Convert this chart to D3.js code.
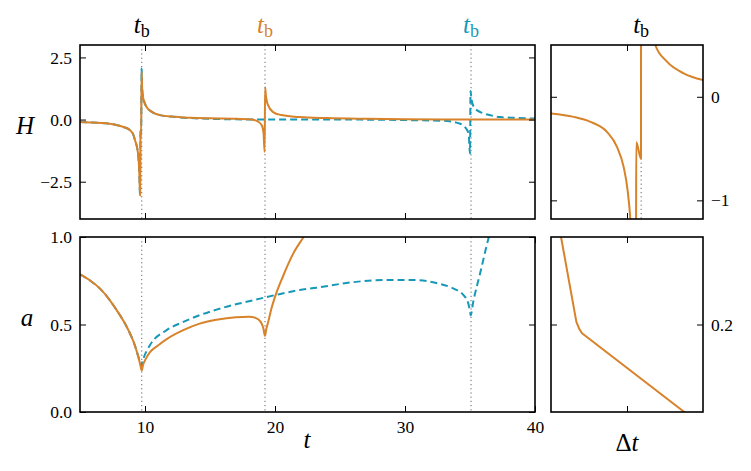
<!DOCTYPE html>
<html>
<head>
<meta charset="utf-8">
<script src="https://cdn.jsdelivr.net/npm/d3@7"></script>
<style>
  body { margin: 0; background: #fff; }
  svg { display: block; }
</style>
</head>
<body>
<svg id="chart" width="751" height="471"></svg>
<script>
// bounce times (t_b) of the three runs
var tbTimes = [9.75, 19.23, 35.08];
var tbZoom = 0.593;

// H(t), orange run (solid)
var hOrangeT = [5, 6, 7, 7.8, 8.4, 8.85, 9.1, 9.23, 9.38, 9.49, 9.56, 9.62, 9.65, 9.67, 9.70, 9.74, 9.78, 9.85, 9.95, 10.13, 10.5, 11.15, 12, 13.5, 15, 17, 18.2, 18.7, 19.0, 19.12, 19.2, 19.24, 19.3, 19.45, 19.85, 20.5, 21.9, 24, 27, 30, 35, 40];
var hOrange  = [-0.10, -0.12, -0.15, -0.22, -0.31, -0.43, -0.6, -0.83, -1.1, -1.5, -2.1, -3.05, -0.7, -0.43, -0.62, 1.92, 1.25, 0.9, 0.7, 0.5, 0.32, 0.18, 0.12, 0.07, 0.05, 0.035, 0.0, -0.08, -0.25, -0.55, -1.3, 1.3, 0.95, 0.6, 0.3, 0.18, 0.1, 0.06, 0.03, 0.01, 0.0, 0.0];

// H(t), teal run (dashed)
var hTealT = [5, 6, 7, 7.8, 8.4, 8.85, 9.1, 9.23, 9.38, 9.49, 9.56, 9.62, 9.65, 9.67, 9.70, 9.74, 9.78, 9.85, 9.95, 10.13, 10.5, 11.15, 12, 13.5, 15, 17, 20, 25, 30, 33, 34.2, 34.7, 34.9, 35.0, 35.04, 35.12, 35.3, 35.55, 35.8, 36.6, 37.3, 38.5, 40];
var hTeal  = [-0.10, -0.12, -0.15, -0.22, -0.31, -0.43, -0.6, -0.83, -1.1, -1.5, -2.1, -3.05, -0.7, -0.43, -0.62, 2.05, 1.25, 0.9, 0.7, 0.5, 0.32, 0.18, 0.12, 0.06, 0.03, 0.01, 0.0, 0.0, -0.02, -0.05, -0.16, -0.36, -0.6, -1.36, 1.15, 0.8, 0.5, 0.37, 0.3, 0.17, 0.1, 0.07, 0.04];

// a(t), orange run
var aOrangeT = [5, 5.8, 6.54, 7.2, 7.82, 8.5, 8.9, 9.2, 9.45, 9.62, 9.75, 9.85, 10.0, 10.4, 11, 11.7, 12.9, 14.2, 15.5, 17, 18, 18.5, 18.9, 19.1, 19.23, 19.32, 19.48, 19.72, 20, 20.64, 21.4, 22.2, 22.5];
var aOrange  = [0.786, 0.75, 0.705, 0.648, 0.582, 0.50, 0.44, 0.385, 0.325, 0.275, 0.237, 0.27, 0.295, 0.343, 0.38, 0.418, 0.466, 0.505, 0.527, 0.542, 0.545, 0.538, 0.515, 0.48, 0.435, 0.47, 0.515, 0.59, 0.658, 0.78, 0.905, 1.0, 1.035];

// a(t), teal run
var aTealT = [5, 5.8, 6.54, 7.2, 7.82, 8.5, 8.9, 9.2, 9.45, 9.62, 9.72, 9.77, 9.9, 10.38, 11.67, 12.95, 14.2, 15.5, 16.8, 18.08, 20, 21.9, 23.2, 25.8, 28.3, 30.9, 32.4, 33.7, 34.5, 34.87, 35.0, 35.05, 35.25, 35.77, 36.45, 36.6];
var aTeal  = [0.786, 0.75, 0.705, 0.648, 0.582, 0.50, 0.44, 0.385, 0.325, 0.285, 0.265, 0.28, 0.31, 0.382, 0.468, 0.515, 0.553, 0.585, 0.612, 0.634, 0.668, 0.697, 0.71, 0.74, 0.754, 0.754, 0.737, 0.706, 0.668, 0.62, 0.575, 0.553, 0.63, 0.79, 1.0, 1.04];

// zoom panels, plotted against the time step
var hZoomDt = [0, 0.149, 0.259, 0.368, 0.434, 0.478, 0.504, 0.522, 0.535, 0.559, 0.561, 0.592, 0.593, 0.62, 0.65, 0.686, 0.763, 0.873, 1.0];
var hZoomH  = [-0.161, -0.194, -0.242, -0.339, -0.484, -0.678, -0.903, -1.19, -1.6, -1.6, -0.44, -0.597, 3.0, 1.3, 0.8, 0.5, 0.339, 0.226, 0.161];
var aZoomDt = [0.05, 0.066, 0.167, 0.186, 0.204, 0.877, 0.9];
var aZoomA  = [0.33, 0.30, 0.203, 0.195, 0.19, 0.10, 0.097];

var tTicks = [10, 20, 30, 40];
var hTicks = [-2.5, 0, 2.5];
var aTicks = [0, 0.5, 1];
var hZoomTicks = [-1, 0];
var aZoomTicks = [0.2];
var dtTicks = [0.5];

var orange = '#d8822a', teal = '#1798b8';
var FONT = "'Liberation Serif'";

var svg = d3.select('#chart');

var xMain = d3.scaleLinear().domain([5, 40]).range([80, 535]);
var xZoom = d3.scaleLinear().domain([0, 1]).range([551, 703]);
var yH = d3.scaleLinear().domain([-4, 3]).range([219, 45]);
var yA = d3.scaleLinear().domain([0, 1]).range([412, 237]);
var yHz = d3.scaleLinear().domain([-1.18, 0.5]).range([219, 45]);
var yAz = d3.scaleLinear().domain([0.1, 0.3]).range([412, 237]);

var clipId = 0;
function panel(x, y, opt) {
  var g = svg.append('g');
  var id = 'clip' + (clipId++);
  var x0 = x.range()[0], x1 = x.range()[1], y0 = y.range()[1], y1 = y.range()[0];
  svg.append('clipPath').attr('id', id).append('rect')
    .attr('x', x0).attr('y', y0).attr('width', x1 - x0).attr('height', y1 - y0);

  // dotted bounce markers
  (opt.marks || []).forEach(function (m) {
    g.append('line')
      .attr('x1', x(m)).attr('x2', x(m)).attr('y1', y0).attr('y2', y1)
      .attr('stroke', '#555').attr('stroke-width', 0.9).attr('stroke-dasharray', '1.2,3');
  });

  var body = g.append('g').attr('clip-path', 'url(#' + id + ')');
  opt.series.forEach(function (s) {
    var pts = d3.zip(s.t, s.v);
    body.append('path').datum(pts)
      .attr('fill', 'none').attr('stroke', s.color).attr('stroke-width', 2)
      .attr('stroke-dasharray', s.dash ? '7,4' : null)
      .attr('stroke-linejoin', 'round')
      .attr('d', d3.line().curve(s.straight ? d3.curveLinear : d3.curveMonotoneX)
        .x(function (d) { return x(d[0]); }).y(function (d) { return y(d[1]); }));
  });

  // inward ticks on all four sides
  var ab = g.append('g').attr('transform', 'translate(0,' + y1 + ')')
    .call(d3.axisBottom(x).tickValues(opt.xt).tickSize(-6).tickPadding(9)
      .tickFormat(opt.xLabels ? d3.format('d') : ''));
  var at = g.append('g').attr('transform', 'translate(0,' + y0 + ')')
    .call(d3.axisTop(x).tickValues(opt.xt).tickSize(-6).tickFormat(''));
  var al = g.append('g').attr('transform', 'translate(' + x0 + ',0)')
    .call(d3.axisLeft(y).tickValues(opt.yt).tickSize(-6).tickPadding(8)
      .tickFormat(opt.yLeft ? d3.format(opt.yf) : ''));
  var ar = g.append('g').attr('transform', 'translate(' + x1 + ',0)')
    .call(d3.axisRight(y).tickValues(opt.yt).tickSize(-6).tickPadding(8)
      .tickFormat(opt.yLeft ? '' : d3.format(opt.yf)));
  [ab, at, al, ar].forEach(function (a) {
    a.select('.domain').remove();
    a.selectAll('.tick line').attr('stroke', '#000').attr('stroke-width', 1);
    a.selectAll('.tick text').style('font-family', FONT)
      .attr('font-size', 17.5).attr('fill', '#000');
  });

  g.append('rect')
    .attr('x', x0).attr('y', y0).attr('width', x1 - x0).attr('height', y1 - y0)
    .attr('fill', 'none').attr('stroke', '#000').attr('stroke-width', 1.6);
}

panel(xMain, yH, {
  marks: tbTimes, xt: [10, 20, 30], yt: hTicks, yf: '.1f', yLeft: true,
  series: [
    { t: hTealT, v: hTeal, color: teal, dash: true },
    { t: hOrangeT, v: hOrange, color: orange }
  ]
});
panel(xMain, yA, {
  marks: tbTimes, xt: tTicks, xLabels: true, yt: aTicks, yf: '.1f', yLeft: true,
  series: [
    { t: aTealT, v: aTeal, color: teal, dash: true },
    { t: aOrangeT, v: aOrange, color: orange }
  ]
});
panel(xZoom, yHz, {
  marks: [tbZoom], xt: dtTicks, yt: hZoomTicks, yf: 'd', yLeft: false,
  series: [{ t: hZoomDt, v: hZoomH, color: orange }]
});
panel(xZoom, yAz, {
  marks: [], xt: dtTicks, yt: aZoomTicks, yf: '.1f', yLeft: false,
  series: [{ t: aZoomDt, v: aZoomA, color: orange, straight: true }]
});

// axis labels
function mathLabel(x, y, txt) {
  svg.append('text').attr('x', x).attr('y', y).attr('text-anchor', 'middle')
    .style('font-family', FONT).attr('font-size', 25).attr('font-style', 'italic').text(txt);
}
mathLabel(25, 134, 'H');
mathLabel(27, 326, 'a');
mathLabel(307, 448, 't');
var dl = svg.append('text').attr('x', 627).attr('y', 451).attr('text-anchor', 'middle')
  .style('font-family', FONT).attr('font-size', 25);
dl.append('tspan').text('Δ');
dl.append('tspan').attr('font-style', 'italic').text('t');

// t_b labels over the bounce markers
var tbLabels = [
  { x: xMain(tbTimes[0]), c: '#000' },
  { x: xMain(tbTimes[1]), c: orange },
  { x: xMain(tbTimes[2]), c: teal },
  { x: xZoom(tbZoom), c: '#000' }
];
tbLabels.forEach(function (d) {
  var t = svg.append('text').attr('x', d.x).attr('y', 33).attr('text-anchor', 'middle')
    .style('font-family', FONT).attr('fill', d.c).attr('font-size', 25);
  t.append('tspan').attr('font-style', 'italic').text('t');
  t.append('tspan').attr('font-size', 18).attr('dy', 4).text('b');
});
</script>
</body>
</html>
